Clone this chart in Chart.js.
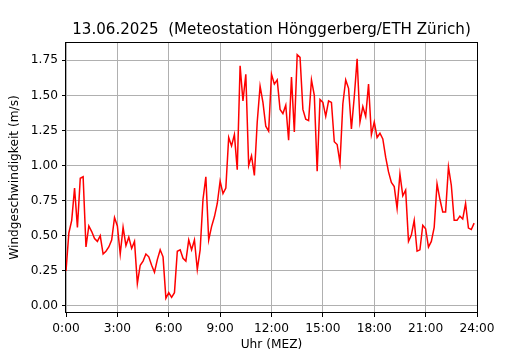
<!DOCTYPE html>
<html><head><meta charset="utf-8">
<script src="https://cdn.jsdelivr.net/npm/chart.js@4/dist/chart.umd.min.js"></script>
<style>html,body{margin:0;padding:0;background:#fff}canvas{display:block}</style>
</head><body>
<canvas id="c" width="530" height="350"></canvas>
<script>
const chartTitle = "13.06.2025  (Meteostation Hönggerberg/ETH Zürich)";
const xAxisTitle = "Uhr (MEZ)";
const yAxisTitle = "Windgeschwindigkeit (m/s)";
const sampleMinutes = 10; // one reading every 10 minutes, starting 0:00
const windSpeed = [
  0.25, 0.52, 0.61, 0.84, 0.56, 0.91,   // 0:00
  0.92, 0.42, 0.57, 0.53, 0.48, 0.46,   // 1:00
  0.50, 0.37, 0.39, 0.42, 0.47, 0.63,   // 2:00
  0.57, 0.37, 0.56, 0.43, 0.49, 0.41,   // 3:00
  0.46, 0.16, 0.29, 0.32, 0.37, 0.35,   // 4:00
  0.29, 0.24, 0.33, 0.40, 0.35, 0.055,  // 5:00
  0.095, 0.062, 0.095, 0.39, 0.40, 0.34,// 6:00
  0.32, 0.47, 0.40, 0.47, 0.26, 0.40,   // 7:00
  0.76, 0.92, 0.47, 0.565, 0.635, 0.73, // 8:00
  0.89, 0.80, 0.84, 1.20, 1.14, 1.22,   // 9:00
  0.97, 1.71, 1.46, 1.65, 1.00, 1.07,   // 10:00
  0.93, 1.31, 1.565, 1.45, 1.28, 1.245, // 11:00
  1.65, 1.58, 1.61, 1.40, 1.37, 1.43,   // 12:00
  1.18, 1.63, 1.24, 1.79, 1.77, 1.40,   // 13:00
  1.33, 1.32, 1.61, 1.50, 0.96, 1.47,   // 14:00
  1.45, 1.35, 1.46, 1.45, 1.17, 1.15,   // 15:00
  1.02, 1.44, 1.61, 1.55, 1.26, 1.49,   // 16:00
  1.76, 1.31, 1.42, 1.35, 1.58, 1.22,   // 17:00
  1.31, 1.20, 1.23, 1.19, 1.06, 0.955,  // 18:00
  0.88, 0.85, 0.695, 0.94, 0.785, 0.825,// 19:00
  0.46, 0.505, 0.61, 0.39, 0.40, 0.575, // 20:00
  0.55, 0.42, 0.46, 0.56, 0.87, 0.76,   // 21:00
  0.67, 0.67, 0.99, 0.86, 0.61, 0.61,   // 22:00
  0.64, 0.62, 0.73, 0.555, 0.545, 0.59  // 23:00
];
const xTickHours = [0, 3, 6, 9, 12, 15, 18, 21, 24];
const xTickLabels = ["0:00", "3:00", "6:00", "9:00", "12:00", "15:00", "18:00", "21:00", "24:00"];
const yTickValues = [0, 0.25, 0.5, 0.75, 1.0, 1.25, 1.5, 1.75];

const points = windSpeed.map((v, i) => ({ x: i * sampleMinutes / 60, y: v }));
const FONT = '"DejaVu Sans", sans-serif';
const LABEL_SIZE = 12.2;

const framePlugin = {
  id: 'frame',
  afterDatasetsDraw(chart) {
    const { ctx, chartArea: a } = chart;
    ctx.save();
    ctx.strokeStyle = '#000';
    ctx.lineWidth = 1;
    ctx.strokeRect(Math.round(a.left) - 0.5, Math.round(a.top) + 0.5,
                   Math.round(a.right - a.left) + 1, Math.round(a.bottom - a.top) - 1);
    ctx.restore();
  },
  afterDraw(chart) {
    const { ctx, chartArea: a } = chart;
    ctx.save();
    ctx.fillStyle = '#000';
    ctx.font = '15.1px ' + FONT;
    ctx.textAlign = 'center';
    ctx.textBaseline = 'alphabetic';
    ctx.fillText(chartTitle, (a.left + a.right) / 2, 34);
    ctx.restore();
  }
};

new Chart(document.getElementById('c'), {
  type: 'line',
  data: {
    datasets: [{
      data: points,
      borderColor: '#ff0000',
      borderWidth: 1.5,
      pointRadius: 0,
      tension: 0,
      fill: false
    }]
  },
  options: {
    responsive: false,
    animation: false,
    devicePixelRatio: 1,
    layout: { padding: { top: 42, right: 53, bottom: 0, left: 0 } },
    plugins: { legend: { display: false }, title: { display: false }, tooltip: { enabled: false } },
    scales: {
      x: {
        type: 'linear',
        min: 0, max: 24,
        afterFit(s) { s.height = 37; },
        afterBuildTicks(s) { s.ticks = xTickHours.map(v => ({ value: v })); },
        ticks: {
          color: '#000', font: { family: FONT, size: LABEL_SIZE }, padding: 5,
          maxRotation: 0, autoSkip: false,
          callback: (v) => xTickLabels[xTickHours.indexOf(v)]
        },
        grid: { color: '#b0b0b0', lineWidth: 1, tickColor: '#000', tickLength: 4, tickWidth: 1 },
        border: { display: false },
        title: { display: true, text: xAxisTitle, color: '#000', font: { family: FONT, size: LABEL_SIZE, lineHeight: 0.85 }, padding: { top: 0, bottom: 0 } }
      },
      y: {
        type: 'linear',
        min: -0.05, max: 1.88,
        afterFit(s) { s.width = 66; },
        afterBuildTicks(s) { s.ticks = yTickValues.map(v => ({ value: v })); },
        ticks: {
          color: '#000', font: { family: FONT, size: LABEL_SIZE }, padding: 4,
          callback: (v) => v.toFixed(2)
        },
        grid: { color: '#b0b0b0', lineWidth: 1, tickColor: '#000', tickLength: 4, tickWidth: 1 },
        border: { display: false },
        title: { display: true, text: yAxisTitle, color: '#000', font: { family: FONT, size: LABEL_SIZE }, padding: { top: 8, bottom: 0 } }
      }
    }
  },
  plugins: [framePlugin]
});
</script>
</body></html>
